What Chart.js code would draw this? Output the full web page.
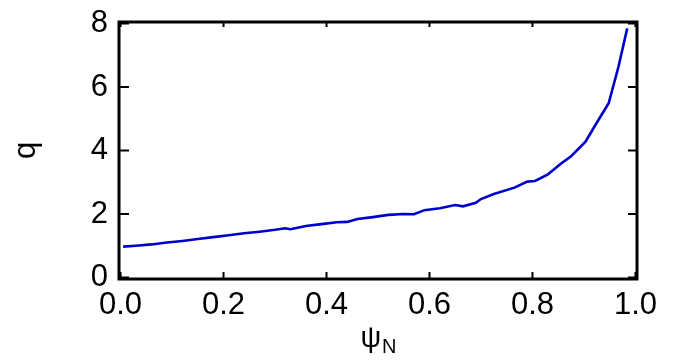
<!DOCTYPE html>
<html>
<head>
<meta charset="utf-8">
<script src="https://cdn.jsdelivr.net/npm/chart.js@4/dist/chart.umd.min.js"></script>
<style>
  html, body { margin: 0; padding: 0; background: #fff; }
  #wrap { width: 673px; height: 362px; }
</style>
</head>
<body>
<div id="wrap"><canvas id="qChart"></canvas></div>
<script>
// ===== DATA =====
const psiN = [0.005, 0.03, 0.06, 0.09, 0.12, 0.15, 0.18, 0.21, 0.24, 0.27, 0.30, 0.32, 0.33, 0.36, 0.39,
  0.42, 0.44, 0.46, 0.49, 0.52, 0.55, 0.57, 0.59, 0.62, 0.65, 0.665, 0.69, 0.70, 0.725, 0.765, 0.79,
  0.805, 0.83, 0.855, 0.875, 0.903, 0.928, 0.948, 0.967, 0.984];
const qValues = [0.97, 1.00, 1.04, 1.10, 1.15, 1.21, 1.27, 1.33, 1.39, 1.44, 1.50, 1.55, 1.52, 1.62, 1.68,
  1.74, 1.75, 1.84, 1.90, 1.97, 2.00, 1.99, 2.12, 2.18, 2.28, 2.24, 2.35, 2.47, 2.63, 2.83, 3.02,
  3.04, 3.25, 3.58, 3.82, 4.28, 4.96, 5.49, 6.64, 7.85];
const xTicks = [0.0, 0.2, 0.4, 0.6, 0.8, 1.0];
const yTicks = [0, 2, 4, 6, 8];

const FONT = 'Liberation Sans, Arial, sans-serif';

// frame + inward ticks, and the subscripted x title
const framePlugin = {
  id: 'frame',
  afterDraw(chart) {
    const { ctx, chartArea: a, scales } = chart;
    ctx.save();
    ctx.strokeStyle = '#000';
    ctx.lineWidth = 3;
    ctx.strokeRect(a.left, a.top, a.right - a.left, a.bottom - a.top);
    ctx.lineWidth = 2;
    ctx.beginPath();
    xTicks.forEach(v => {
      const px = scales.x.getPixelForValue(v);
      ctx.moveTo(px, a.bottom); ctx.lineTo(px, a.bottom - 7);
      ctx.moveTo(px, a.top); ctx.lineTo(px, a.top + 5);
    });
    yTicks.forEach(v => {
      const py = scales.y.getPixelForValue(v);
      ctx.moveTo(a.left, py); ctx.lineTo(a.left + 10, py);
      ctx.moveTo(a.right, py); ctx.lineTo(a.right - 9, py);
    });
    ctx.stroke();

    // x title: psi with subscript N
    const cx = (a.left + a.right) / 2;
    ctx.fillStyle = '#000';
    ctx.textBaseline = 'alphabetic';
    ctx.textAlign = 'left';
    ctx.font = '29px ' + FONT;
    const w = ctx.measureText('ψ').width;
    ctx.font = '20px ' + FONT;
    const wn = ctx.measureText('N').width;
    const x0 = cx - (w + wn) / 2;
    ctx.font = '29px ' + FONT;
    ctx.fillText('ψ', x0, 347);
    ctx.font = '20px ' + FONT;
    ctx.fillText('N', x0 + w + 1, 353);
    ctx.restore();
  }
};

new Chart(document.getElementById('qChart').getContext('2d'), {
  type: 'line',
  data: {
    datasets: [{
      data: psiN.map((x, i) => ({ x: x, y: qValues[i] })),
      borderColor: '#0000CC',
      borderWidth: 2.6,
      pointRadius: 0,
      fill: false,
      tension: 0
    }]
  },
  options: {
    responsive: true,
    maintainAspectRatio: false,
    animation: false,
    layout: { padding: { top: 22, right: 36, left: 0, bottom: 0 } },
    plugins: { legend: { display: false }, tooltip: { enabled: false } },
    scales: {
      x: {
        type: 'linear',
        min: -0.003,
        max: 1.003,
        afterBuildTicks: s => { s.ticks = xTicks.map(v => ({ value: v })); },
        afterFit: s => { s.height = 83; s.paddingLeft = 0; s.paddingRight = 0; },
        grid: { display: false, drawTicks: false },
        border: { display: false },
        ticks: {
          padding: 8,
          color: '#000',
          font: { family: FONT, size: 31 },
          maxRotation: 0,
          callback: v => v.toFixed(1)
        }
      },
      y: {
        min: -0.05,
        max: 8.05,
        afterBuildTicks: s => { s.ticks = yTicks.map(v => ({ value: v })); },
        afterFit: s => { s.width = 119; s.paddingTop = 0; s.paddingBottom = 0; },
        grid: { display: false, drawTicks: false },
        border: { display: false },
        title: {
          display: true,
          text: 'q',
          color: '#000',
          font: { family: FONT, size: 31 },
          padding: { top: 8, bottom: 0 }
        },
        ticks: {
          padding: 11,
          color: '#000',
          font: { family: FONT, size: 31 },
          callback: v => String(v)
        }
      }
    }
  },
  plugins: [framePlugin]
});
</script>
</body>
</html>
